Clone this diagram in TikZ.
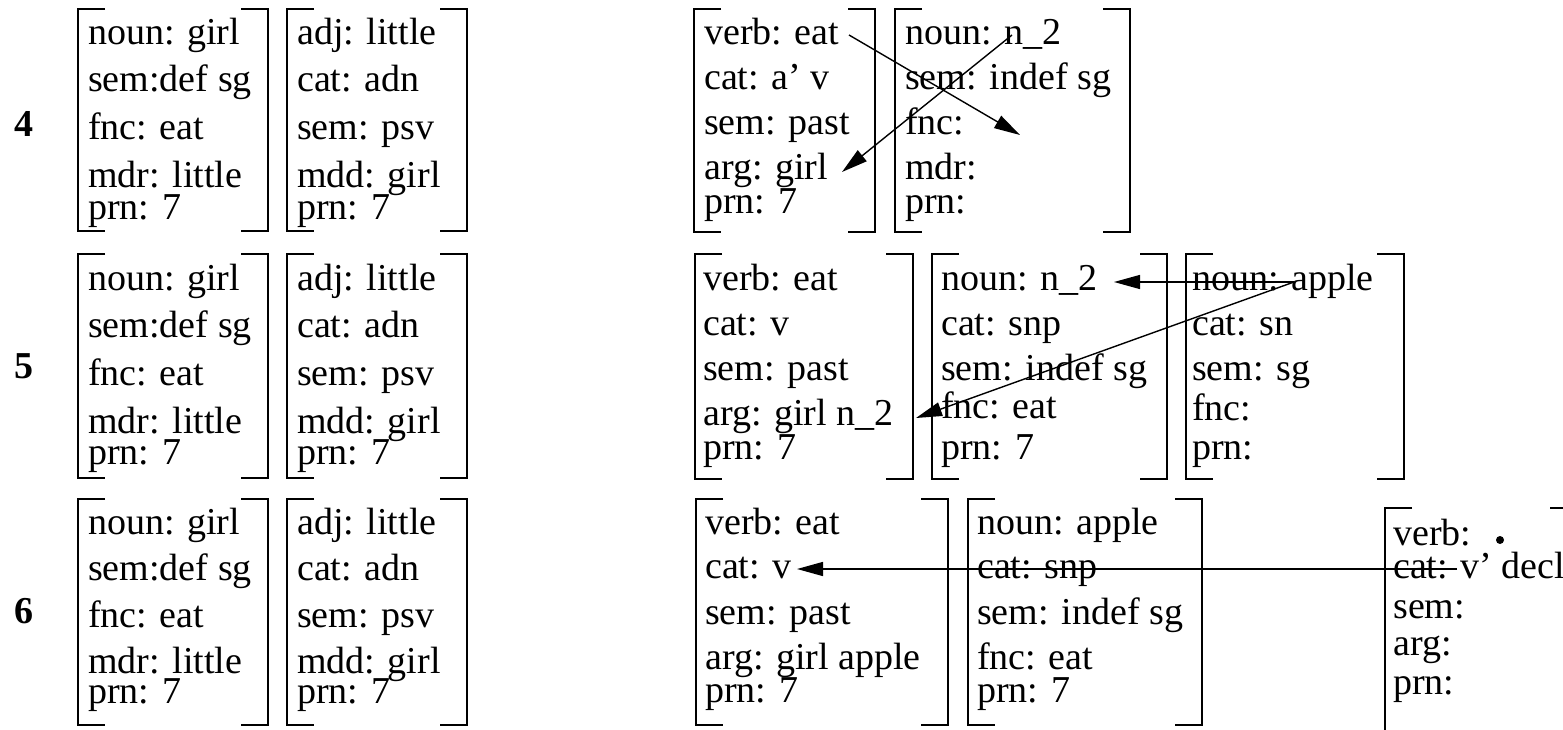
\documentclass[tikz,border=0pt]{standalone}
\usepackage{fontspec}
\setmainfont{Liberation Serif}
\usetikzlibrary{arrows.meta}
\newcommand\fsbrackets[4]{% left, top, right, bottom
  \draw[brk] ({#1+27},#2) -- (#1,#2) -- (#1,#4) -- ({#1+27},#4);
  \draw[brk] ({#3-27},#2) -- (#3,#2) -- (#3,#4) -- ({#3-27},#4);}
\begin{document}
\begin{tikzpicture}[x=1pt,y=-1pt,
  txt/.style={anchor=base west,inner sep=0pt,font=\fontsize{38}{46}\selectfont},
  num/.style={anchor=base,inner sep=0pt,font=\fontsize{38}{46}\selectfont\bfseries},
  brk/.style={line width=1.8pt},
  conn/.style={line width=1.4pt,-{Triangle[length=26pt,width=14pt]}},
  dotmark/.style={circle,fill=black,inner sep=0pt,minimum size=8pt}]
\useasboundingbox (0,0) rectangle (1563,730);

% ---------- row numbers
\node[num] (n4) at (24,137) {4};
\node[num] (n5) at (24,378) {5};
\node[num] (n6) at (24,623) {6};

% ---------- row 4
\fsbrackets{78}{9}{268}{231}
\node[txt] (r4a1) at (88,45) {noun: girl};
\node[txt] (r4a2) at (88,92) {sem:def sg};
\node[txt] (r4a3) at (88,140) {fnc: eat};
\node[txt] (r4a4) at (88,188) {mdr: little};
\node[txt] (r4a5) at (88,219) {prn: 7};
\fsbrackets{287}{9}{467}{231}
\node[txt] (r4b1) at (297,45) {adj: little};
\node[txt] (r4b2) at (297,92) {cat: adn};
\node[txt] (r4b3) at (297,140) {sem: psv};
\node[txt] (r4b4) at (297,188) {mdd: girl};
\node[txt] (r4b5) at (297,219) {prn: 7};
\fsbrackets{694}{9}{875}{232}
\node[txt] (r4c1) at (704,45) {verb: eat};
\node[txt] (r4c2) at (704,90) {cat: a’ v};
\node[txt] (r4c3) at (704,135) {sem: past};
\node[txt] (r4c4) at (704,180) {arg: girl};
\node[txt] (r4c5) at (704,214) {prn: 7};
\fsbrackets{895}{9}{1130}{232}
\node[txt] (r4d1) at (905,45) {noun: n\_2};
\node[txt] (r4d2) at (905,90) {sem: indef sg};
\node[txt] (r4d3) at (905,135) {fnc:};
\node[txt] (r4d4) at (905,180) {mdr:};
\node[txt] (r4d5) at (905,214) {prn:};

% ---------- row 5
\fsbrackets{78}{254}{268}{478}
\node[txt] (r5a1) at (88,290) {noun: girl};
\node[txt] (r5a2) at (88,337) {sem:def sg};
\node[txt] (r5a3) at (88,385) {fnc: eat};
\node[txt] (r5a4) at (88,433) {mdr: little};
\node[txt] (r5a5) at (88,464) {prn: 7};
\fsbrackets{287}{254}{467}{478}
\node[txt] (r5b1) at (297,290) {adj: little};
\node[txt] (r5b2) at (297,337) {cat: adn};
\node[txt] (r5b3) at (297,385) {sem: psv};
\node[txt] (r5b4) at (297,433) {mdd: girl};
\node[txt] (r5b5) at (297,464) {prn: 7};
\fsbrackets{695}{254}{913}{479}
\node[txt] (r5c1) at (703,290) {verb: eat};
\node[txt] (r5c2) at (703,335) {cat: v};
\node[txt] (r5c3) at (703,380) {sem: past};
\node[txt] (r5c4) at (703,425) {arg: girl n\_2};
\node[txt] (r5c5) at (703,459) {prn: 7};
\fsbrackets{932}{254}{1167}{479}
\node[txt] (r5d1) at (941,290) {noun: n\_2};
\node[txt] (r5d2) at (941,335) {cat: snp};
\node[txt] (r5d3) at (941,380) {sem: indef sg};
\node[txt] (r5d4) at (941,418) {fnc: eat};
\node[txt] (r5d5) at (941,459) {prn: 7};
\fsbrackets{1186}{254}{1404}{479}
\node[txt] (r5e1) at (1192,290) {noun: apple};
\node[txt] (r5e2) at (1192,335) {cat: sn};
\node[txt] (r5e3) at (1192,380) {sem: sg};
\node[txt] (r5e4) at (1192,420) {fnc:};
\node[txt] (r5e5) at (1192,459) {prn:};

% ---------- row 6
\fsbrackets{78}{499}{268}{725}
\node[txt] (r6a1) at (88,534) {noun: girl};
\node[txt] (r6a2) at (88,580) {sem:def sg};
\node[txt] (r6a3) at (88,627) {fnc: eat};
\node[txt] (r6a4) at (88,673) {mdr: little};
\node[txt] (r6a5) at (88,703) {prn: 7};
\fsbrackets{287}{499}{467}{725}
\node[txt] (r6b1) at (297,534) {adj: little};
\node[txt] (r6b2) at (297,580) {cat: adn};
\node[txt] (r6b3) at (297,627) {sem: psv};
\node[txt] (r6b4) at (297,673) {mdd: girl};
\node[txt] (r6b5) at (297,703) {prn: 7};
\fsbrackets{696}{499}{948}{725}
\node[txt] (r6c1) at (705,534) {verb: eat};
\node[txt] (r6c2) at (705,578) {cat: v};
\node[txt] (r6c3) at (705,624) {sem: past};
\node[txt] (r6c4) at (705,669) {arg: girl apple};
\node[txt] (r6c5) at (705,702) {prn: 7};
\fsbrackets{968}{499}{1202}{725}
\node[txt] (r6d1) at (977,534) {noun: apple};
\node[txt] (r6d2) at (977,578) {cat: snp};
\node[txt] (r6d3) at (977,624) {sem: indef sg};
\node[txt] (r6d4) at (977,669) {fnc: eat};
\node[txt] (r6d5) at (977,702) {prn: 7};
\fsbrackets{1385}{508}{1577}{745}
\node[txt] (r6e1) at (1393,545) {verb:};
\node[dotmark] (r6dot) at (1500,540) {};
\node[txt] (r6e2) at (1393,578) {cat: v’ decl};
\node[txt] (r6e3) at (1393,618) {sem:};
\node[txt] (r6e4) at (1393,655) {arg:};
\node[txt] (r6e5) at (1393,694) {prn:};

% ---------- connectors
\coordinate (c4as) at (849,35);
\coordinate (c4ae) at (1020,135);
\coordinate (c4bs) at (1012,35);
\coordinate (c4be) at (842,172);
\draw[conn] (c4as) -- (c4ae);
\draw[conn] (c4bs) -- (c4be);

\coordinate (c5s) at (1294,282);
\coordinate (c5ae) at (1114,282);
\coordinate (c5be) at (916,418);
\draw[conn] (c5s) -- (c5ae);
\draw[conn] (c5s) -- (c5be);

\coordinate (c6s) at (1457,569);
\coordinate (c6e) at (797,569);
\draw[conn] (c6s) -- (c6e);
\end{tikzpicture}
\end{document}
